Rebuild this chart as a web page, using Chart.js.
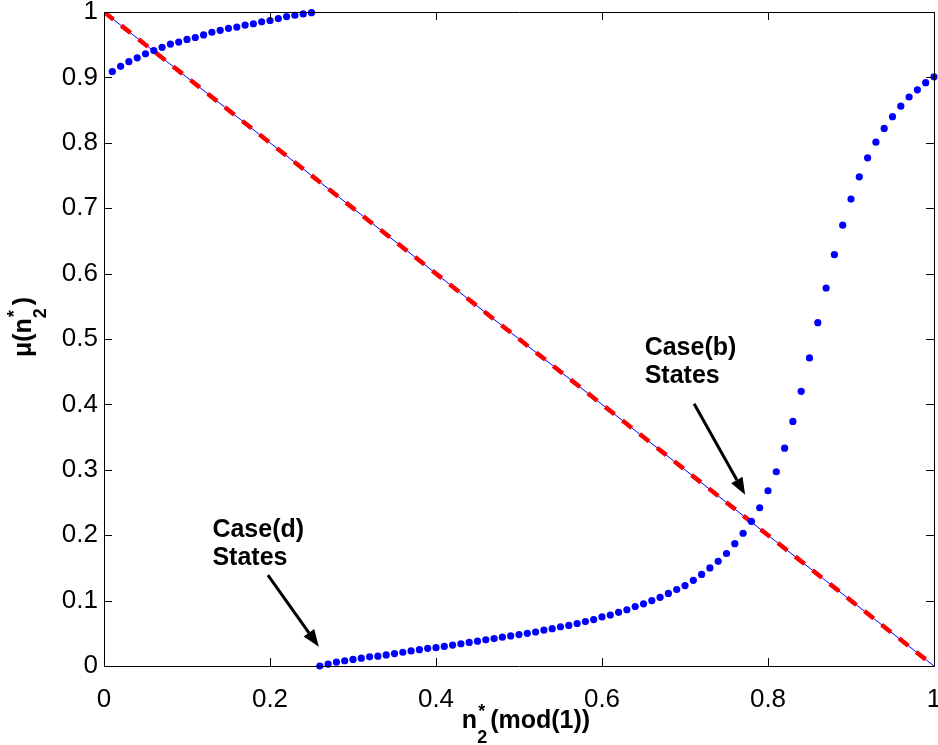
<!DOCTYPE html>
<html>
<head>
<meta charset="utf-8">
<script src="https://cdn.jsdelivr.net/npm/chart.js@4/dist/chart.umd.min.js"></script>
<style>
  html, body { margin: 0; padding: 0; background: #fff; }
  #wrap { width: 938px; height: 745px; }
</style>
</head>
<body>
<div id="wrap"><canvas id="chart" width="938" height="745"></canvas></div>
<script>
// upper branch (n2* from 0.01 to 0.25)
const xUpper = [0.01, 0.02, 0.03, 0.04, 0.05, 0.06, 0.07, 0.08, 0.09, 0.10,
                0.11, 0.12, 0.13, 0.14, 0.15, 0.16, 0.17, 0.18, 0.19, 0.20,
                0.21, 0.22, 0.23, 0.24, 0.25];
const muUpper = [0.909, 0.917, 0.924, 0.930, 0.936, 0.941, 0.946, 0.951, 0.954, 0.958,
                 0.961, 0.965, 0.969, 0.972, 0.975, 0.977, 0.980, 0.982, 0.985, 0.987,
                 0.990, 0.993, 0.995, 0.997, 0.999];

// lower branch (n2* from 0.26 to 1)
const xLower = [0.26, 0.27, 0.28, 0.29, 0.30, 0.31, 0.32, 0.33, 0.34, 0.35,
                0.36, 0.37, 0.38, 0.39, 0.40, 0.41, 0.42, 0.43, 0.44, 0.45,
                0.46, 0.47, 0.48, 0.49, 0.50, 0.51, 0.52, 0.53, 0.54, 0.55,
                0.56, 0.57, 0.58, 0.59, 0.60, 0.61, 0.62, 0.63, 0.64, 0.65,
                0.66, 0.67, 0.68, 0.69, 0.70, 0.71, 0.72, 0.73, 0.74, 0.75,
                0.76, 0.77, 0.78, 0.79, 0.80, 0.81, 0.82, 0.83, 0.84, 0.85,
                0.86, 0.87, 0.88, 0.89, 0.90, 0.91, 0.92, 0.93, 0.94, 0.95,
                0.96, 0.97, 0.98, 0.99, 1.00];
const muLower = [0.000, 0.003, 0.006, 0.008, 0.010, 0.012, 0.014, 0.015, 0.017, 0.019,
                 0.021, 0.023, 0.025, 0.027, 0.028, 0.030, 0.032, 0.034, 0.036, 0.038,
                 0.040, 0.042, 0.044, 0.046, 0.048, 0.050, 0.052, 0.055, 0.057, 0.060,
                 0.062, 0.065, 0.068, 0.071, 0.075, 0.078, 0.082, 0.086, 0.091, 0.095,
                 0.100, 0.105, 0.111, 0.117, 0.123, 0.131, 0.140, 0.150, 0.160, 0.172,
                 0.187, 0.203, 0.221, 0.242, 0.268, 0.297, 0.333, 0.374, 0.420, 0.471,
                 0.525, 0.578, 0.629, 0.674, 0.714, 0.748, 0.777, 0.801, 0.822, 0.840,
                 0.856, 0.870, 0.881, 0.892, 0.901];

// diagonal mu = 1 - n
const xDiag = [0, 1];
const muDiag = [1, 0];

const xTickValues = [0, 0.2, 0.4, 0.6, 0.8, 1];
const xTickLabels = ['0', '0.2', '0.4', '0.6', '0.8', '1'];
const yTickValues = [0, 0.1, 0.2, 0.3, 0.4, 0.5, 0.6, 0.7, 0.8, 0.9, 1];
const yTickLabels = ['0', '0.1', '0.2', '0.3', '0.4', '0.5', '0.6', '0.7', '0.8', '0.9', '1'];

const notes = [
    { lines: ['Case(b)', 'States'], x: 0.6514, y: 0.476, tail: [0.711, 0.401], tip: [0.7725, 0.2617] },
    { lines: ['Case(d)', 'States'], x: 0.1306, y: 0.198, tail: [0.1975, 0.139], tip: [0.2588, 0.0295] }
];

const FONT = '"Liberation Sans", Arial, Helvetica, sans-serif';

const pts = (xs, ys) => xs.map((x, i) => ({ x: x, y: ys[i] }));

// base text + stacked sub/superscript + rest
function drawScripted(ctx, x, y, base, sub, sup, rest, measureOnly) {
    const big = 'bold 25px ' + FONT;
    const small = 'bold 18px ' + FONT;
    ctx.font = big;
    const wBase = ctx.measureText(base).width;
    const wRest = ctx.measureText(rest).width;
    ctx.font = small;
    const wScript = Math.max(ctx.measureText(sub).width, ctx.measureText(sup).width) + 3;
    const total = wBase + wScript + wRest;
    if (measureOnly) return total;
    ctx.textAlign = 'left';
    ctx.textBaseline = 'alphabetic';
    ctx.fillStyle = '#000';
    ctx.font = big;
    ctx.fillText(base, x, y);
    ctx.font = small;
    ctx.fillText(sup, x + wBase + 1, y - 11);
    ctx.fillText(sub, x + wBase, y + 15);
    ctx.font = big;
    ctx.fillText(rest, x + wBase + wScript, y);
    return total;
}

const matlabAxes = {
    id: 'matlabAxes',
    afterDraw(chart) {
        const ctx = chart.ctx;
        const a = chart.chartArea;
        const xs = chart.scales.x, ys = chart.scales.y;
        const tl = 8;
        ctx.save();
        ctx.strokeStyle = '#000';
        ctx.lineWidth = 1;
        ctx.beginPath();
        ctx.rect(Math.round(a.left) + 0.5, Math.round(a.top) + 0.5,
                 Math.round(a.right - a.left), Math.round(a.bottom - a.top));
        xTickValues.forEach(v => {
            const px = Math.round(xs.getPixelForValue(v)) + 0.5;
            ctx.moveTo(px, a.bottom); ctx.lineTo(px, a.bottom - tl);
            ctx.moveTo(px, a.top); ctx.lineTo(px, a.top + tl);
        });
        yTickValues.forEach(v => {
            const py = Math.round(ys.getPixelForValue(v)) + 0.5;
            ctx.moveTo(a.left, py); ctx.lineTo(a.left + tl, py);
            ctx.moveTo(a.right, py); ctx.lineTo(a.right - tl, py);
        });
        ctx.stroke();

        // annotations with arrows
        notes.forEach(n => {
            ctx.font = 'bold 25px ' + FONT;
            ctx.fillStyle = '#000';
            ctx.textAlign = 'left';
            ctx.textBaseline = 'alphabetic';
            const tx = xs.getPixelForValue(n.x), ty = ys.getPixelForValue(n.y);
            n.lines.forEach((t, i) => ctx.fillText(t, tx, ty + i * 28));

            const x0 = xs.getPixelForValue(n.tail[0]), y0 = ys.getPixelForValue(n.tail[1]);
            const x1 = xs.getPixelForValue(n.tip[0]), y1 = ys.getPixelForValue(n.tip[1]);
            const ang = Math.atan2(y1 - y0, x1 - x0);
            const hl = 17, hw = 6.5;
            const bx = x1 - hl * Math.cos(ang), by = y1 - hl * Math.sin(ang);
            ctx.lineWidth = 3;
            ctx.beginPath();
            ctx.moveTo(x0, y0);
            ctx.lineTo(bx, by);
            ctx.stroke();
            ctx.beginPath();
            ctx.moveTo(x1, y1);
            ctx.lineTo(bx + hw * Math.sin(ang), by - hw * Math.cos(ang));
            ctx.lineTo(bx - hw * Math.sin(ang), by + hw * Math.cos(ang));
            ctx.closePath();
            ctx.fill();
        });

        // axis titles
        const cx = (a.left + a.right) / 2 + 7;
        const wx = drawScripted(ctx, 0, 0, 'n', '2', '*', '(mod(1))', true);
        drawScripted(ctx, cx - wx / 2, 728, 'n', '2', '*', '(mod(1))');

        const wy = drawScripted(ctx, 0, 0, '\u03bc(n', '2', '*', ')', true);
        ctx.translate(31, 327);
        ctx.rotate(-Math.PI / 2);
        drawScripted(ctx, -wy / 2, 0, '\u03bc(n', '2', '*', ')');
        ctx.restore();
    }
};

new Chart(document.getElementById('chart'), {
    type: 'scatter',
    data: {
        datasets: [
            {
                data: pts(xUpper, muUpper),
                backgroundColor: '#0000ff',
                borderWidth: 0,
                pointRadius: 3.6,
                clip: false
            },
            {
                data: pts(xLower, muLower),
                backgroundColor: '#0000ff',
                borderWidth: 0,
                pointRadius: 3.6,
                clip: false
            },
            {
                data: pts(xDiag, muDiag),
                showLine: true,
                borderColor: '#ff0000',
                borderWidth: 4.5,
                borderDash: [12, 10],
                pointRadius: 0
            },
            {
                data: pts(xDiag, muDiag),
                showLine: true,
                borderColor: '#0000ff',
                borderWidth: 1,
                pointRadius: 0
            }
        ]
    },
    options: {
        responsive: false,
        animation: false,
        events: [],
        layout: { padding: { top: 12, right: 2, left: 0, bottom: 0 } },
        plugins: {
            legend: { display: false },
            tooltip: { enabled: false }
        },
        scales: {
            x: {
                type: 'linear',
                min: 0,
                max: 1,
                afterBuildTicks: s => { s.ticks = xTickValues.map(v => ({ value: v })); },
                afterFit: s => { s.height = 79; s.paddingLeft = 0; s.paddingRight = 0; },
                grid: { display: false, drawTicks: false },
                border: { display: false },
                ticks: {
                    padding: 18,
                    color: '#000',
                    font: { family: FONT, size: 26 },
                    maxRotation: 0,
                    callback: (v, i) => xTickLabels[i]
                }
            },
            y: {
                type: 'linear',
                min: 0,
                max: 1,
                afterBuildTicks: s => { s.ticks = yTickValues.map(v => ({ value: v })); },
                afterFit: s => { s.width = 104; s.paddingTop = 0; s.paddingBottom = 0; },
                grid: { display: false, drawTicks: false },
                border: { display: false },
                ticks: {
                    padding: 6,
                    color: '#000',
                    font: { family: FONT, size: 26 },
                    callback: (v, i) => yTickLabels[i]
                }
            }
        }
    },
    plugins: [matlabAxes]
});
</script>
</body>
</html>
